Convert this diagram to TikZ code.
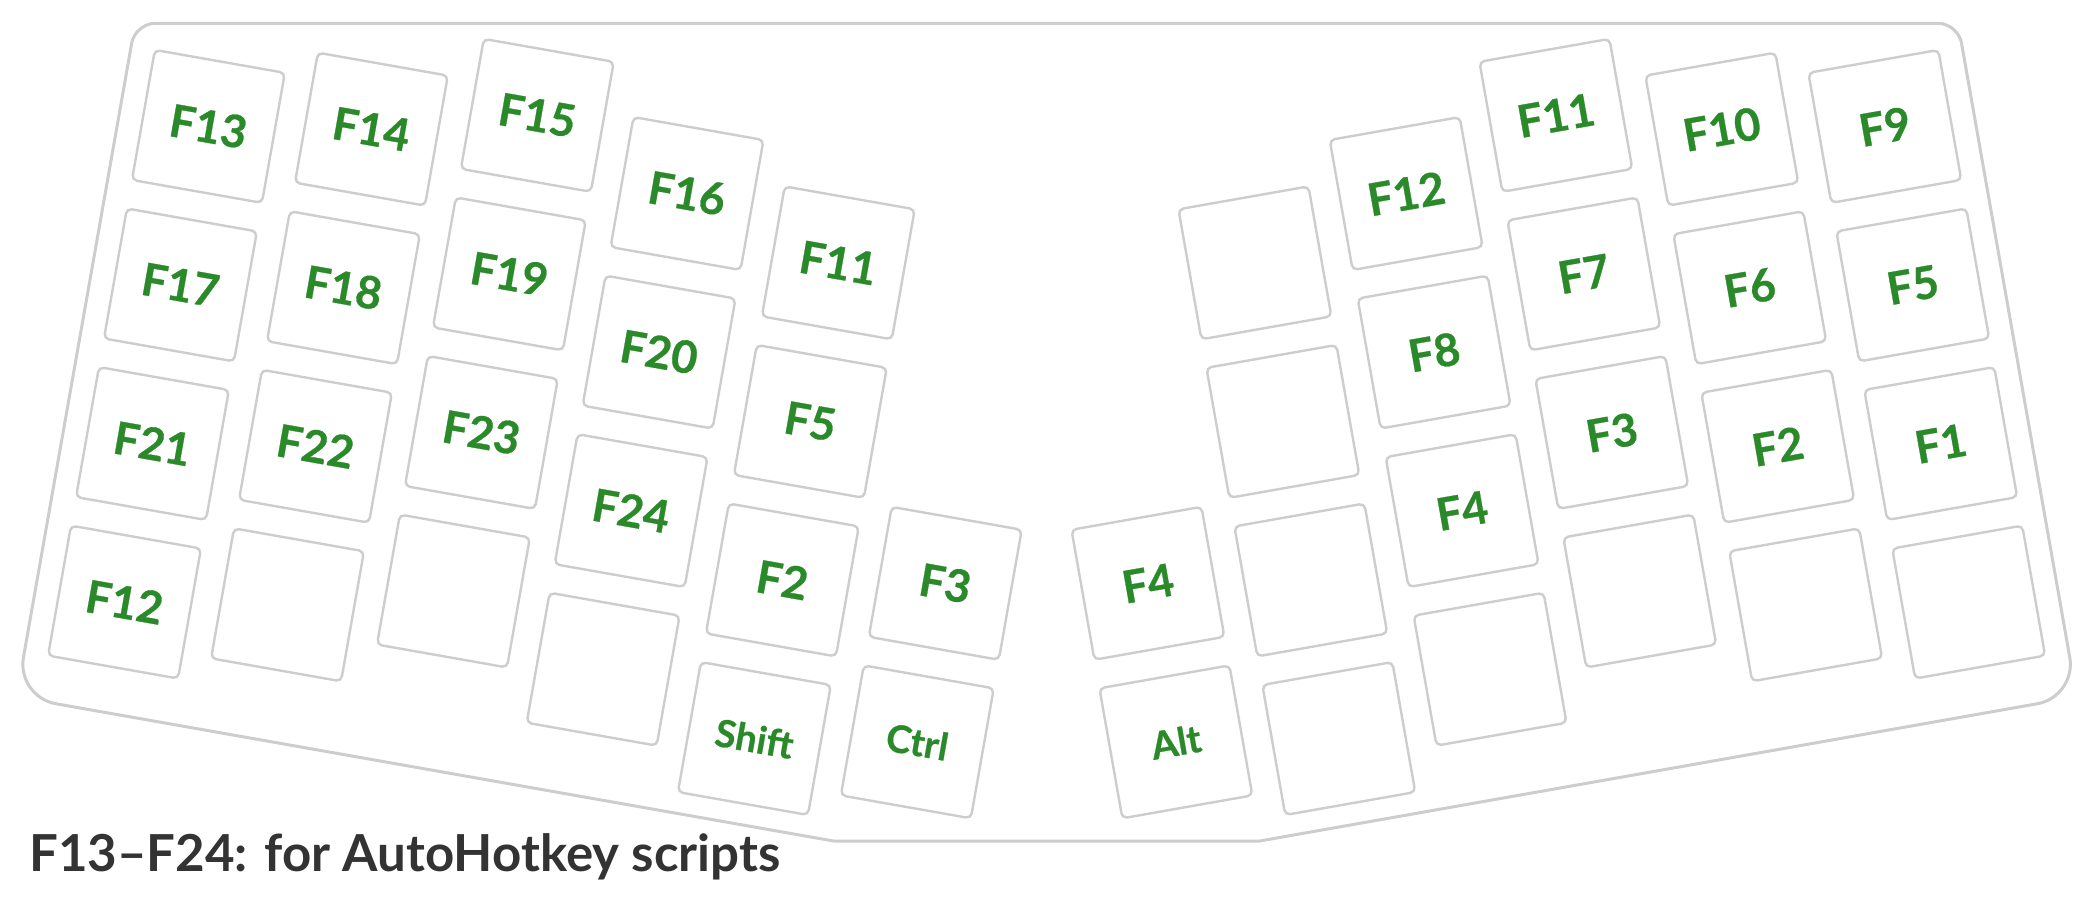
\documentclass[tikz,border=0pt]{standalone}
\usepackage{fontspec}
\setmainfont{Lato}
\newfontfamily\keyfont{Lato}[BoldFeatures={FakeBold=0.6}]
\usetikzlibrary{calc}
\definecolor{keyline}{RGB}{205,205,205}
\definecolor{caseline}{RGB}{205,205,205}
\definecolor{keygreen}{RGB}{42,138,42}
\definecolor{captext}{RGB}{51,51,51}
\tikzset{
  keycap/.style={draw=keyline, line width=2.4pt, rounded corners=5pt,
    minimum width=132pt, minimum height=132pt, inner sep=0pt,
    transform shape, fill=white, text=keygreen,
    font=\keyfont\fontsize{45}{45}\selectfont\bfseries},
  modkey/.style={keycap, font=\keyfont\fontsize{38}{38}\selectfont\bfseries},
  casebody/.style={draw=caseline, line width=3pt},
}
\begin{document}
\begin{tikzpicture}[x=1pt,y=-1pt]
\useasboundingbox (0,0) rectangle (2097,900);
% case outline
\coordinate (A) at (135.2,23.3);
\coordinate (B) at (1958.0,23.3);
\coordinate (C) at (2076.7,696.8);
\coordinate (D) at (1259.7,841);
\coordinate (E) at (833.5,841);
\coordinate (F) at (16.5,696.8);
\coordinate (A1) at ($(A)!20pt!(F)$);
\coordinate (A2) at ($(A)!20pt!(B)$);
\coordinate (B1) at ($(B)!20pt!(A)$);
\coordinate (B2) at ($(B)!20pt!(C)$);
\coordinate (C1) at ($(C)!40pt!(B)$);
\coordinate (C2) at ($(C)!40pt!(D)$);
\coordinate (F1) at ($(F)!40pt!(E)$);
\coordinate (F2) at ($(F)!40pt!(A)$);
\draw[casebody] (A2) -- (B1)
  .. controls ($(B1)!0.55!(B)$) and ($(B2)!0.55!(B)$) .. (B2) -- (C1)
  .. controls ($(C1)!0.55!(C)$) and ($(C2)!0.55!(C)$) .. (C2) -- (D) -- (E) -- (F1)
  .. controls ($(F1)!0.55!(F)$) and ($(F2)!0.55!(F)$) .. (F2) -- (A1)
  .. controls ($(A1)!0.55!(A)$) and ($(A2)!0.55!(A)$) .. (A2) -- cycle;
% left half
\begin{scope}[shift={(208.4,126.4)}, rotate=-10]
  \node[keycap] (l11) at (0,0) {F13};
  \node[keycap] (l21) at (0,161) {F17};
  \node[keycap] (l31) at (0,322) {F21};
  \node[keycap] (l41) at (0,483) {F12};
  \node[keycap] (l12) at (161,-25.6) {F14};
  \node[keycap] (l22) at (161,135.4) {F18};
  \node[keycap] (l32) at (161,296.4) {F22};
  \node[keycap] (l42) at (161,457.4) {};
  \node[keycap] (l13) at (322,-68) {F15};
  \node[keycap] (l23) at (322,93) {F19};
  \node[keycap] (l33) at (322,254) {F23};
  \node[keycap] (l43) at (322,415) {};
  \node[keycap] (l14) at (483,-17) {F16};
  \node[keycap] (l24) at (483,144) {F20};
  \node[keycap] (l34) at (483,305) {F24};
  \node[keycap] (l44) at (483,466) {};
  \node[keycap] (l15) at (644,25) {F11};
  \node[keycap] (l25) at (644,186) {F5};
  \node[keycap] (l35) at (644,347) {F2};
  \node[modkey] (l45) at (644,508) {Shift};
  \node[keycap] (l36) at (805,322) {F3};
  \node[modkey] (l46) at (805,483) {Ctrl};
\end{scope}
% right half
\begin{scope}[shift={(1884.8,126.4)}, rotate=10]
  \node[keycap] (r11) at (0,0) {F9};
  \node[keycap] (r21) at (0,161) {F5};
  \node[keycap] (r31) at (0,322) {F1};
  \node[keycap] (r41) at (0,483) {};
  \node[keycap] (r12) at (-161,-25.6) {F10};
  \node[keycap] (r22) at (-161,135.4) {F6};
  \node[keycap] (r32) at (-161,296.4) {F2};
  \node[keycap] (r42) at (-161,457.4) {};
  \node[keycap] (r13) at (-322,-68) {F11};
  \node[keycap] (r23) at (-322,93) {F7};
  \node[keycap] (r33) at (-322,254) {F3};
  \node[keycap] (r43) at (-322,415) {};
  \node[keycap] (r14) at (-483,-17) {F12};
  \node[keycap] (r24) at (-483,144) {F8};
  \node[keycap] (r34) at (-483,305) {F4};
  \node[keycap] (r44) at (-483,466) {};
  \node[keycap] (r15) at (-644,25) {};
  \node[keycap] (r25) at (-644,186) {};
  \node[keycap] (r35) at (-644,347) {};
  \node[keycap] (r45) at (-644,508) {};
  \node[keycap] (r36) at (-805,322) {F4};
  \node[modkey] (r46) at (-805,483) {Alt};
\end{scope}
% caption
\node[anchor=base west, inner sep=0pt, text=captext,
      font=\fontsize{51}{51}\selectfont\bfseries] (caption) at (29,871.7)
      {F13–F24: for AutoHotkey scripts};
\end{tikzpicture}
\end{document}
